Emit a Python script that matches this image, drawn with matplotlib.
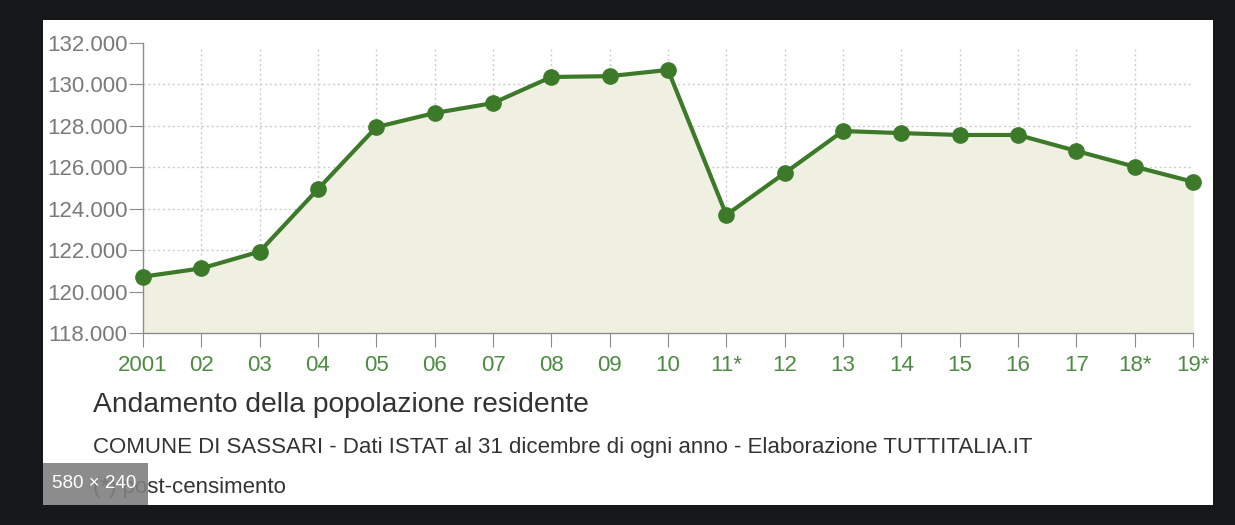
import matplotlib.pyplot as plt
from matplotlib.patches import Rectangle

plt.rcParams['font.family'] = ['Liberation Sans', 'DejaVu Sans']

# 데이터
anni = ['2001', '02', '03', '04', '05', '06', '07', '08', '09', '10',
        '11*', '12', '13', '14', '15', '16', '17', '18*', '19*']
popolazione = [120720, 121120, 121930, 124950, 127940, 128620, 129100, 130360,
               130400, 130700, 123700, 125720, 127750, 127650, 127560, 127560,
               126790, 126030, 125300]
y_ticks = [118000, 120000, 122000, 124000, 126000, 128000, 130000, 132000]

W, H = 1235, 525
fig = plt.figure(figsize=(W / 100, H / 100), dpi=100, facecolor='#17181a')

# 흰색 패널 (축 뒤에)
bg = fig.add_axes([43 / W, (H - 505) / H, (1213 - 43) / W, (505 - 20) / H], zorder=-1)
bg.axis('off')
bg.add_patch(Rectangle((0, 0), 1, 1, transform=bg.transAxes, facecolor='white',
                       edgecolor='none'))

ax = fig.add_axes([143 / W, (H - 333) / H, (1193 - 143) / W, (333 - 43) / H])
ax.set_facecolor('none')

x = list(range(len(anni)))
ax.fill_between(x, popolazione, y_ticks[0], color='#f0f0e2', zorder=1)
ax.plot(x, popolazione, color='#3c7a2a', lw=3, marker='o', ms=11,
        clip_on=False, zorder=3)

# 격자 (점선)
for v in y_ticks[1:-1]:
    ax.axhline(v, color='#cccccc', lw=1, ls=(0, (1.5, 2)), zorder=0.5)
for i in x[1:-1]:
    ax.axvline(i, color='#cccccc', lw=1, ls=(0, (1.5, 2)), zorder=0.5, ymax=0.99)

ax.set_xlim(0, len(anni) - 1)
ax.set_ylim(y_ticks[0], y_ticks[-1])
ax.set_xticks(x)
ax.set_xticklabels(anni)
ax.set_yticks(y_ticks)
ax.set_yticklabels([f"{v:,}".replace(',', '.') for v in y_ticks])

for s in ['top', 'right']:
    ax.spines[s].set_visible(False)
for s in ['left', 'bottom']:
    ax.spines[s].set_color('#8c8c8c')
    ax.spines[s].set_linewidth(1)

ax.tick_params(axis='y', length=10, color='#8c8c8c', labelcolor='#7a7a7a',
               labelsize=16, pad=1)
ax.tick_params(axis='x', length=10, color='#8c8c8c', labelcolor='#4d8b43',
               labelsize=16, pad=6)

# 제목, 부제목
fig.text(93 / W, 1 - 405 / H, 'Andamento della popolazione residente',
         fontsize=20.3, color='#333333', va='center')
fig.text(93 / W, 1 - 447 / H,
         'COMUNE DI SASSARI - Dati ISTAT al 31 dicembre di ogni anno - Elaborazione TUTTITALIA.IT',
         fontsize=16, color='#333333', va='center')
fig.text(93 / W, 1 - 487 / H, '(*) post-censimento',
         fontsize=16, color='#333333', va='center')

# 이미지 크기 배지
fig.patches.append(Rectangle((43 / W, (H - 505) / H), (148 - 43) / W, (505 - 463) / H,
                             transform=fig.transFigure, facecolor='#808080',
                             edgecolor='none', alpha=0.9, zorder=5))
fig.text(52 / W, 1 - 484 / H, '580 × 240', fontsize=13.5, color='white',
         va='center', zorder=6)

plt.savefig('out.png', dpi=100, facecolor=fig.get_facecolor())
